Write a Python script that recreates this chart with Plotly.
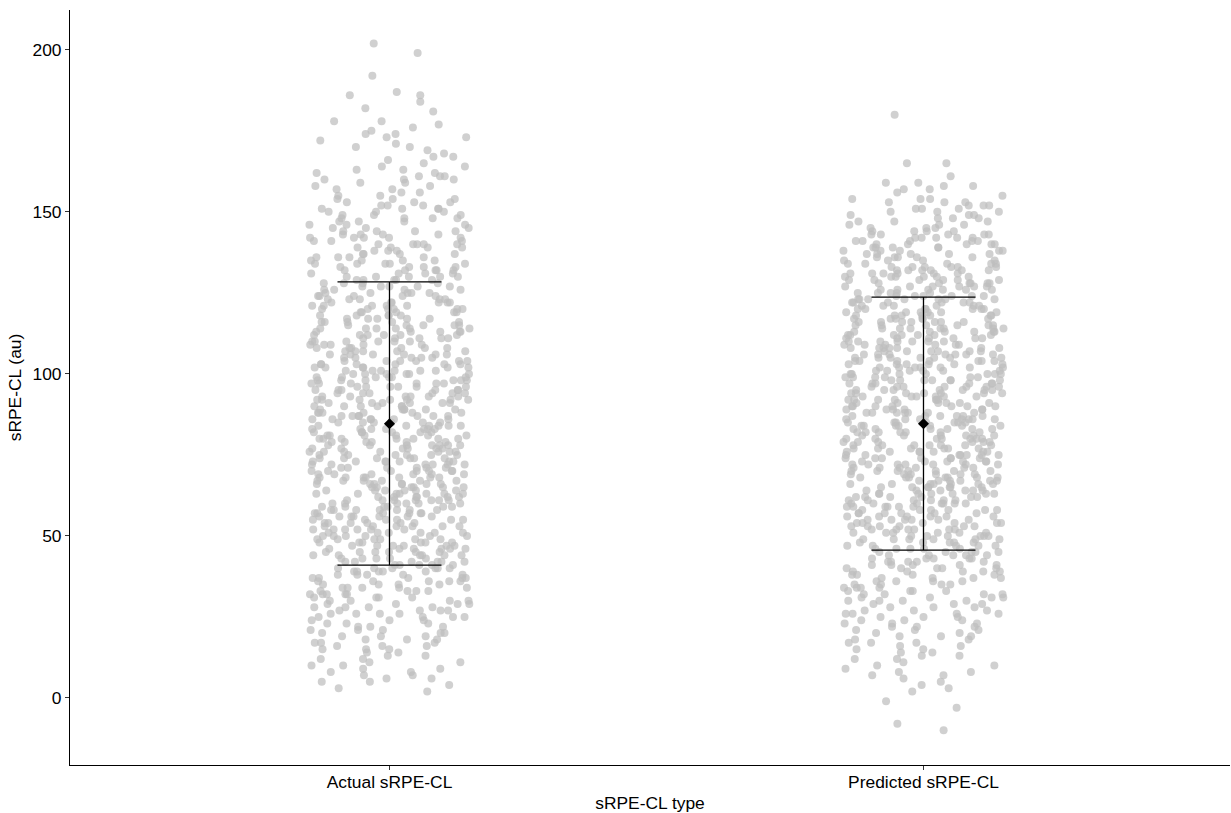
import plotly.graph_objects as go

# Session RPE training load (au) per load type
categories = ["Actual sRPE-CL", "Predicted sRPE-CL"]

actual_load = [
    202, 199, 192, 187, 186, 186, 184, 182, 181, 178, 178, 177, 176, 175,
    174, 174, 173, 173, 172, 171, 170, 170, 169, 168, 167, 167, 166, 165,
    164, 164, 163, 163, 162, 162, 161, 161, 161, 160, 160, 160, 159, 159,
    158, 158, 157, 157, 156, 156, 155, 155,
    154, 154, 154, 153, 153, 153, 152, 152, 152, 151, 151, 151, 151, 150,
    150, 150, 149, 149, 149, 148, 148, 148, 148, 147, 147, 147, 146, 146,
    146, 145, 145, 145,
    144, 144, 144, 144, 143, 143, 143, 143, 142, 142, 142, 142, 142, 141,
    141, 141, 140, 140, 140, 140, 140, 139, 139, 139, 139, 138, 138, 138,
    137, 137, 137, 137, 136, 136, 136, 136, 135, 135, 135, 135,
    134, 134, 134, 134, 134, 133, 133, 133, 133, 132, 132, 132, 132, 132,
    131, 131, 131, 131, 130, 130, 130, 130, 130, 129, 129, 129, 129, 129,
    128, 128, 128, 128, 127, 127, 127, 127, 127, 126, 126, 126, 126, 125,
    125, 125, 125, 125,
    124, 124, 124, 124, 124, 123, 123, 123, 123, 123, 122, 122, 122, 122,
    122, 122, 121, 121, 121, 121, 121, 120, 120, 120, 120, 120, 120, 119,
    119, 119, 119, 119, 118, 118, 118, 118, 118, 117, 117, 117, 117, 117,
    116, 116, 116, 116, 116, 115, 115, 115, 115, 115,
    114, 114, 114, 114, 114, 114, 113, 113, 113, 113, 113, 112, 112, 112,
    112, 112, 112, 111, 111, 111, 111, 111, 110, 110, 110, 110, 110, 110,
    109, 109, 109, 109, 109, 108, 108, 108, 108, 108, 108, 107, 107, 107,
    107, 107, 106, 106, 106, 106, 106, 106, 105, 105, 105, 105, 105,
    104, 104, 104, 104, 104, 104, 103, 103, 103, 103, 103, 103, 102, 102,
    102, 102, 102, 102, 101, 101, 101, 101, 101, 101, 100, 100, 100, 100,
    100, 100, 99, 99, 99, 99, 99, 99, 98, 98, 98, 98, 98, 98, 97, 97, 97,
    97, 97, 97, 96, 96, 96, 96, 96, 96, 95, 95, 95, 95, 95, 95,
    94, 94, 94, 94, 94, 94, 93, 93, 93, 93, 93, 93, 92, 92, 92, 92, 92, 92,
    92, 91, 91, 91, 91, 91, 91, 90, 90, 90, 90, 90, 90, 89, 89, 89, 89, 89,
    89, 88, 88, 88, 88, 88, 88, 87, 87, 87, 87, 87, 87, 87, 86, 86, 86, 86,
    86, 86, 85, 85, 85, 85, 85, 85,
    84, 84, 84, 84, 84, 84, 83, 83, 83, 83, 83, 83, 83, 82, 82, 82, 82, 82,
    82, 81, 81, 81, 81, 81, 81, 80, 80, 80, 80, 80, 80, 80, 79, 79, 79, 79,
    79, 79, 78, 78, 78, 78, 78, 78, 78, 77, 77, 77, 77, 77, 77, 76, 76, 76,
    76, 76, 76, 76, 75, 75, 75, 75, 75, 75,
    74, 74, 74, 74, 74, 74, 73, 73, 73, 73, 73, 73, 73, 72, 72, 72, 72, 72,
    72, 71, 71, 71, 71, 71, 71, 70, 70, 70, 70, 70, 70, 70, 69, 69, 69, 69,
    69, 69, 68, 68, 68, 68, 68, 68, 68, 67, 67, 67, 67, 67, 67, 66, 66, 66,
    66, 66, 66, 66, 65, 65, 65, 65, 65, 65,
    64, 64, 64, 64, 64, 64, 63, 63, 63, 63, 63, 63, 63, 62, 62, 62, 62, 62,
    62, 61, 61, 61, 61, 61, 61, 61, 60, 60, 60, 60, 60, 60, 59, 59, 59, 59,
    59, 59, 58, 58, 58, 58, 58, 58, 58, 57, 57, 57, 57, 57, 57, 56, 56, 56,
    56, 56, 56, 56, 55, 55, 55, 55, 55, 55,
    54, 54, 54, 54, 54, 54, 53, 53, 53, 53, 53, 53, 52, 52, 52, 52, 52, 52,
    51, 51, 51, 51, 51, 51, 50, 50, 50, 50, 50, 50, 49, 49, 49, 49, 49, 49,
    48, 48, 48, 48, 48, 48, 47, 47, 47, 47, 47, 47, 46, 46, 46, 46, 46, 46,
    45, 45, 45, 45, 45, 45,
    44, 44, 44, 44, 44, 44, 43, 43, 43, 43, 43, 42, 42, 42, 42, 42, 42, 41,
    41, 41, 41, 41, 40, 40, 40, 40, 40, 40, 39, 39, 39, 39, 39, 38, 38, 38,
    38, 38, 37, 37, 37, 37, 37, 36, 36, 36, 36, 36, 35, 35, 35, 35,
    34, 34, 34, 34, 34, 33, 33, 33, 33, 32, 32, 32, 32, 32, 31, 31, 31, 31,
    30, 30, 30, 30, 29, 29, 29, 29, 28, 28, 28, 28, 27, 27, 27, 27, 26, 26,
    26, 26, 25, 25, 25, 25,
    24, 24, 24, 23, 23, 23, 22, 22, 22, 21, 21, 21, 20, 20, 20, 19, 19, 19,
    18, 18, 18, 17, 17, 17, 16, 16, 16, 15, 15, 15,
    14, 14, 13, 13, 12, 12, 11, 11, 10, 10, 9, 9, 8, 8, 7, 7, 6, 6, 5, 5,
    4, 3, 2,
]

predicted_load = [
    180, 165, 165, 161, 159, 159, 158, 158, 157, 157, 156, 155,
    154, 154, 154, 153, 153, 153, 152, 152, 152, 151, 151, 151, 150, 150,
    150, 149, 149, 149, 148, 148, 148, 147, 147, 147, 146, 146, 146, 145,
    145, 145,
    144, 144, 144, 144, 143, 143, 143, 143, 143, 142, 142, 142, 142, 142,
    141, 141, 141, 141, 141, 140, 140, 140, 140, 140, 139, 139, 139, 139,
    139, 138, 138, 138, 138, 138, 137, 137, 137, 137, 137, 136, 136, 136,
    136, 136, 135, 135, 135, 135,
    134, 134, 134, 134, 134, 133, 133, 133, 133, 133, 133, 132, 132, 132,
    132, 132, 132, 131, 131, 131, 131, 131, 131, 130, 130, 130, 130, 130,
    130, 129, 129, 129, 129, 129, 129, 128, 128, 128, 128, 128, 128, 127,
    127, 127, 127, 127, 127, 126, 126, 126, 126, 126, 126, 125, 125, 125,
    125, 125,
    124, 124, 124, 124, 124, 124, 123, 123, 123, 123, 123, 123, 123, 122,
    122, 122, 122, 122, 122, 121, 121, 121, 121, 121, 121, 120, 120, 120,
    120, 120, 120, 120, 119, 119, 119, 119, 119, 119, 118, 118, 118, 118,
    118, 118, 118, 117, 117, 117, 117, 117, 117, 116, 116, 116, 116, 116,
    116, 116, 115, 115, 115, 115, 115, 115,
    114, 114, 114, 114, 114, 114, 114, 113, 113, 113, 113, 113, 113, 112,
    112, 112, 112, 112, 112, 112, 111, 111, 111, 111, 111, 111, 110, 110,
    110, 110, 110, 110, 110, 109, 109, 109, 109, 109, 109, 108, 108, 108,
    108, 108, 108, 108, 107, 107, 107, 107, 107, 107, 106, 106, 106, 106,
    106, 106, 106, 105, 105, 105, 105, 105, 105, 105,
    104, 104, 104, 104, 104, 104, 104, 103, 103, 103, 103, 103, 103, 102,
    102, 102, 102, 102, 102, 102, 101, 101, 101, 101, 101, 101, 100, 100,
    100, 100, 100, 100, 100, 99, 99, 99, 99, 99, 99, 98, 98, 98, 98, 98, 98,
    98, 97, 97, 97, 97, 97, 97, 96, 96, 96, 96, 96, 96, 96, 95, 95, 95, 95,
    95, 95, 95,
    94, 94, 94, 94, 94, 94, 94, 93, 93, 93, 93, 93, 93, 92, 92, 92, 92, 92,
    92, 92, 91, 91, 91, 91, 91, 91, 90, 90, 90, 90, 90, 90, 90, 89, 89, 89,
    89, 89, 89, 88, 88, 88, 88, 88, 88, 88, 87, 87, 87, 87, 87, 87, 86, 86,
    86, 86, 86, 86, 86, 85, 85, 85, 85, 85, 85, 85,
    84, 84, 84, 84, 84, 84, 84, 83, 83, 83, 83, 83, 83, 82, 82, 82, 82, 82,
    82, 82, 81, 81, 81, 81, 81, 81, 80, 80, 80, 80, 80, 80, 80, 79, 79, 79,
    79, 79, 79, 78, 78, 78, 78, 78, 78, 78, 77, 77, 77, 77, 77, 77, 76, 76,
    76, 76, 76, 76, 76, 75, 75, 75, 75, 75, 75, 75,
    74, 74, 74, 74, 74, 74, 74, 73, 73, 73, 73, 73, 73, 72, 72, 72, 72, 72,
    72, 72, 71, 71, 71, 71, 71, 71, 70, 70, 70, 70, 70, 70, 70, 69, 69, 69,
    69, 69, 69, 68, 68, 68, 68, 68, 68, 68, 67, 67, 67, 67, 67, 67, 66, 66,
    66, 66, 66, 66, 66, 65, 65, 65, 65, 65, 65, 65,
    64, 64, 64, 64, 64, 64, 63, 63, 63, 63, 63, 63, 63, 62, 62, 62, 62, 62,
    62, 61, 61, 61, 61, 61, 61, 60, 60, 60, 60, 60, 60, 60, 59, 59, 59, 59,
    59, 59, 58, 58, 58, 58, 58, 58, 57, 57, 57, 57, 57, 57, 56, 56, 56, 56,
    56, 56, 55, 55, 55, 55, 55, 55,
    54, 54, 54, 54, 54, 54, 53, 53, 53, 53, 53, 53, 52, 52, 52, 52, 52, 52,
    51, 51, 51, 51, 51, 51, 50, 50, 50, 50, 50, 50, 49, 49, 49, 49, 49, 49,
    48, 48, 48, 48, 48, 47, 47, 47, 47, 47, 46, 46, 46, 46, 46, 45, 45, 45,
    45, 45,
    44, 44, 44, 44, 44, 43, 43, 43, 43, 43, 42, 42, 42, 42, 42, 41, 41, 41,
    41, 41, 40, 40, 40, 40, 40, 39, 39, 39, 39, 39, 38, 38, 38, 38, 37, 37,
    37, 37, 36, 36, 36, 36, 35, 35, 35, 35,
    34, 34, 34, 34, 33, 33, 33, 33, 32, 32, 32, 32, 31, 31, 31, 31, 30, 30,
    30, 30, 29, 29, 29, 28, 28, 28, 27, 27, 27, 26, 26, 26, 26, 25, 25, 25,
    24, 24, 24, 23, 23, 23, 22, 22, 22, 21, 21, 21, 20, 20, 19, 19, 19, 18,
    18, 17, 17, 17, 16, 16, 15, 15,
    14, 14, 13, 13, 12, 12, 11, 10, 10, 9, 8, 8, 7, 7, 6, 5,
    4, 3, 2, -1, -3, -8, -10,
]

# Group summaries: mean and mean +/- 1 SD
group_mean = [84.6, 84.6]
group_lower = [41.0, 45.6]
group_upper = [128.4, 123.7]

positions = [1, 2]
point_color = "rgba(190,190,190,0.72)"
font_family = "Liberation Sans, Arial, sans-serif"
font_size = 17.4

fig = go.Figure()

for pos, values in zip(positions, [actual_load, predicted_load]):
    fig.add_trace(go.Box(
        y=values,
        x0=pos,
        width=0.30,
        boxpoints="all",
        jitter=1,
        pointpos=0,
        marker=dict(color=point_color, size=8, line=dict(width=0)),
        line=dict(width=0, color="rgba(0,0,0,0)"),
        fillcolor="rgba(0,0,0,0)",
        hoverinfo="y",
        showlegend=False,
    ))

fig.add_trace(go.Scatter(
    x=positions,
    y=group_mean,
    mode="markers",
    marker=dict(symbol="diamond", size=8.5, color="black"),
    error_y=dict(
        type="data",
        symmetric=False,
        array=[u - m for u, m in zip(group_upper, group_mean)],
        arrayminus=[m - l for m, l in zip(group_mean, group_lower)],
        width=52,
        thickness=1.3,
        color="black",
    ),
    showlegend=False,
))

axis_common = dict(
    showline=True,
    linecolor="black",
    linewidth=1,
    ticks="outside",
    ticklen=4,
    tickcolor="#333333",
    showgrid=False,
    zeroline=False,
    tickfont=dict(family=font_family, size=font_size, color="black"),
)

fig.update_layout(
    width=1231,
    height=813,
    margin=dict(l=70, r=1, t=10, b=48),
    plot_bgcolor="white",
    paper_bgcolor="white",
    boxmode="overlay",
    font=dict(family=font_family, size=font_size, color="black"),
    xaxis=dict(
        **axis_common,
        range=[0.4017, 2.574],
        tickvals=positions,
        ticktext=categories,
        ticklabelstandoff=-3,
        title=dict(text="sRPE-CL type", font=dict(family=font_family, size=font_size), standoff=5),
    ),
    yaxis=dict(
        **axis_common,
        range=[-20.7, 212.3],
        tickvals=[0, 50, 100, 150, 200],
        title=dict(text="sRPE-CL (au)", font=dict(family=font_family, size=font_size), standoff=6),
    ),
)

fig.write_html("out.html")
